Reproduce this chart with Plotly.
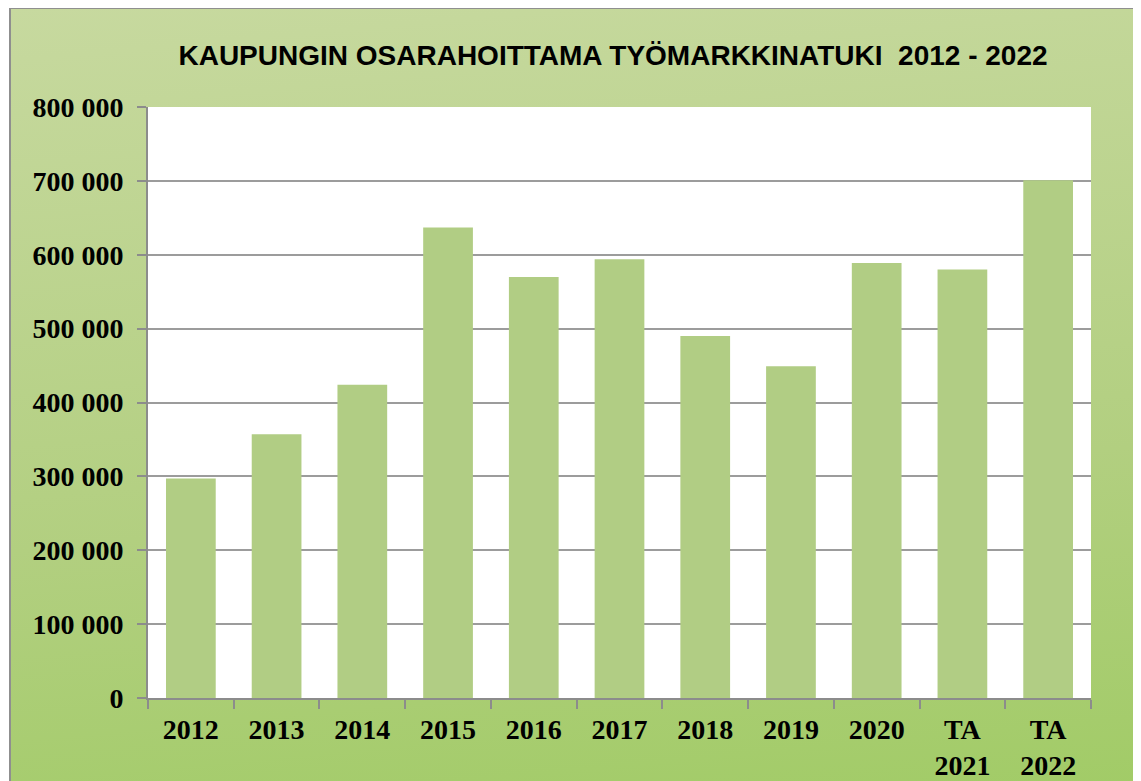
import base64
import plotly.graph_objects as go

categories = ["2012", "2013", "2014", "2015", "2016", "2017", "2018", "2019", "2020", "TA<br>2021", "TA<br>2022"]
values = [297000, 357000, 424000, 637000, 570000, 594000, 490000, 449000, 589000, 580000, 701000]
tick_vals = [0, 100000, 200000, 300000, 400000, 500000, 600000, 700000, 800000]
tick_text = ["0", "100 000", "200 000", "300 000", "400 000", "500 000", "600 000", "700 000", "800 000"]
title_text = "KAUPUNGIN OSARAHOITTAMA TYÖMARKKINATUKI&nbsp; 2012 - 2022"

W, H = 1141, 781
OFF = 8  # page body margin
L, T = 148 - OFF, 107 - OFF
pw, ph = 943, 591
R, B = W - L - pw, H - T - ph

svg = ('<svg xmlns="http://www.w3.org/2000/svg" width="100" height="100" viewBox="0 0 100 100" '
       'preserveAspectRatio="none"><defs><linearGradient id="g" x1="0" y1="0" x2="0.15" y2="1">'
       '<stop offset="0" stop-color="#c7d99f"/><stop offset="0.45" stop-color="#b2cf80"/>'
       '<stop offset="1" stop-color="#92c84f"/></linearGradient></defs>'
       '<rect width="100" height="100" fill="url(#g)"/></svg>')
src = "data:image/svg+xml;base64," + base64.b64encode(svg.encode()).decode()

# paper coords of the outer chart frame (window pixel 10,7)
fx0 = (10 - OFF - L) / pw
fy1 = (T + ph) / ph

fig = go.Figure(go.Bar(
    x=categories, y=values,
    marker=dict(color="#b1cd84", line=dict(width=0)),
    width=0.58,
))

fig.update_layout(
    width=W, height=H,
    margin=dict(l=L, r=R, t=T, b=B, autoexpand=False),
    paper_bgcolor="white",
    plot_bgcolor="white",
    showlegend=False,
    title=dict(text=title_text, x=605 / W, xanchor="center", y=1 - 47 / H, yanchor="middle",
               font=dict(family="Liberation Sans", size=28, color="black", weight="bold")),
    images=[dict(source=src, xref="paper", yref="paper", x=fx0, y=fy1, sizex=2, sizey=2,
                 xanchor="left", yanchor="top", sizing="stretch", layer="below")],
    shapes=[
        dict(type="rect", xref="paper", yref="paper", x0=0, x1=1, y0=0, y1=1,
             line=dict(width=0), fillcolor="white", layer="below"),
        dict(type="rect", xref="paper", yref="paper", x0=fx0, x1=1.5, y0=-0.5, y1=fy1,
             line=dict(color="#8f8f8f", width=2), fillcolor="rgba(0,0,0,0)", layer="above"),
    ],
    bargap=0.42,
)

fig.update_yaxes(
    range=[0, 800000], tickvals=tick_vals, ticktext=tick_text,
    showgrid=True, gridcolor="#9c9c9c", gridwidth=2,
    showline=True, linecolor="#8c8c8c", linewidth=2,
    ticks="outside", ticklen=9, tickcolor="#8c8c8c", tickwidth=2,
    ticklabelstandoff=8, zeroline=False, automargin=False,
    tickfont=dict(family="Liberation Serif", size=28, color="black", weight="bold"),
)
fig.update_xaxes(
    showline=True, linecolor="#8c8c8c", linewidth=2,
    ticks="outside", ticklen=9, tickcolor="#8c8c8c", tickwidth=2, tickson="boundaries",
    tickangle=0, ticklabelstandoff=5, automargin=False,
    tickfont=dict(family="Liberation Serif", size=28, color="black", weight="bold"),
)

fig.write_html("out.html")
